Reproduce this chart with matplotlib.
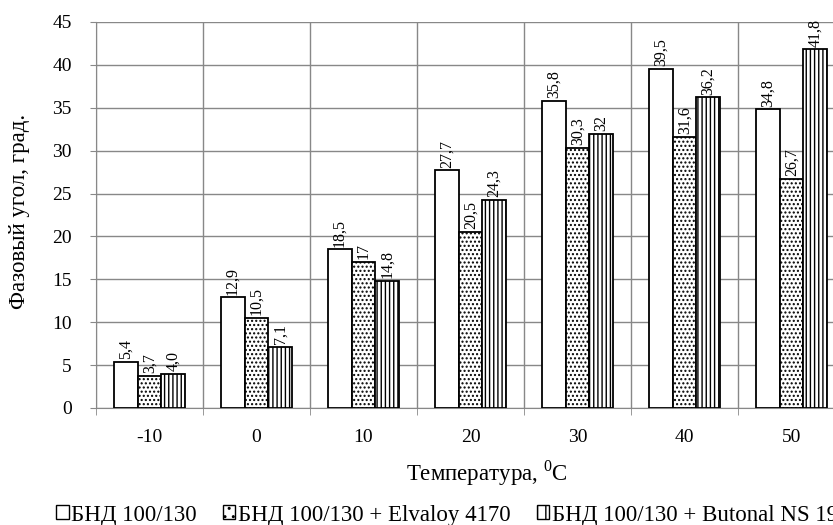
import numpy as np
import matplotlib
matplotlib.use('Agg')
import matplotlib.pyplot as plt
from matplotlib.patches import Patch

# data
temps = ['-10', '0', '10', '20', '30', '40', '50']
bnd = [5.4, 12.9, 18.5, 27.7, 35.8, 39.5, 34.8]
elvaloy = [3.7, 10.5, 17, 20.5, 30.3, 31.6, 26.7]
butonal = [4.0, 7.1, 14.8, 24.3, 32, 36.2, 41.8]
series_names = ['БНД 100/130', 'БНД 100/130 + Elvaloy 4170',
                'БНД 100/130 + Butonal NS 198']

plt.rcParams['font.family'] = ['Liberation Serif', 'DejaVu Serif']
plt.rcParams['mathtext.fontset'] = 'custom'
plt.rcParams['mathtext.rm'] = 'Liberation Serif'
plt.rcParams['hatch.linewidth'] = 1.0

fig = plt.figure(figsize=(8.33, 5.25), dpi=100)
# plot area runs past the right edge, like the cropped original
ax = fig.add_axes([96 / 833, 117 / 525, 749 / 833, 386 / 525])

x = np.arange(len(temps))
w = 0.222
hatches = ['', '....', '||||']
all_series = [bnd, elvaloy, butonal]

for i, (vals, h) in enumerate(zip(all_series, hatches)):
    pos = x + (i - 1) * w
    ax.bar(pos, vals, w, color='white', edgecolor='black', linewidth=1.3,
           hatch=h, zorder=3)
    for p, v in zip(pos, vals):
        ax.annotate(str(v).replace('.', ','), (p, v), xytext=(0, 2),
                    textcoords='offset points', ha='center', va='bottom',
                    rotation=90, fontsize=11.5)

ax.set_xlim(-0.5, len(temps) - 0.5)
ax.set_ylim(0, 45)
ax.set_yticks(np.arange(0, 46, 5))
ax.set_xticks(x)
ax.set_xticklabels(temps)
ax.set_xticks(np.arange(-0.5, len(temps), 1), minor=True)
ax.tick_params(axis='x', which='major', length=0, pad=15, labelsize=14)
ax.tick_params(axis='x', which='minor', length=5, color='#888888')
ax.tick_params(axis='y', length=4.5, color='#888888', labelsize=14, pad=13)

ax.grid(axis='y', color='#888888', linewidth=1, zorder=0)
ax.grid(axis='x', which='minor', color='#888888', linewidth=1, zorder=0)
for s in ['top', 'right']:
    ax.spines[s].set_visible(False)
for s in ['left', 'bottom']:
    ax.spines[s].set_color('#888888')

ax.set_ylabel('Фазовый угол, град.', fontsize=16.5)
ax.yaxis.set_label_coords(-66 / 749, 0.51)
ax.set_xlabel(r'Температура, $^0$C', fontsize=16.5)
ax.xaxis.set_label_coords((487 - 96) / 749, -50 / 386)

handles = [Patch(facecolor='white', edgecolor='black', hatch=h, linewidth=1)
           for h in ['', '..', '||']]
fig.legend(handles, series_names, loc='center left',
           bbox_to_anchor=(56 / 833, 10 / 525), borderaxespad=0, borderpad=0,
           ncol=3, frameon=False, fontsize=16.5, handlelength=0.55,
           handleheight=0.55, handletextpad=0.1, columnspacing=1.15)

plt.savefig('out.png', dpi=100)
plt.close()
